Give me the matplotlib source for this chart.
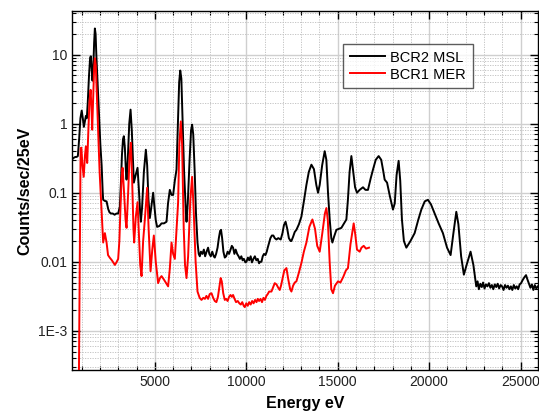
import numpy as np
import matplotlib
matplotlib.use("Agg")
import matplotlib.pyplot as plt
from matplotlib.ticker import FixedLocator, MultipleLocator, LogLocator, NullFormatter

plt.rcParams['font.family'] = ['Liberation Sans', 'DejaVu Sans']

# BCR2 MSL spectrum (energy eV, counts/sec/25eV)
e_msl = [470, 500, 560, 650, 720, 790, 860, 930, 1000, 1060, 1120, 1180, 1230, 1280, 1330,
         1400, 1460, 1500, 1550, 1590, 1630, 1680, 1720, 1760, 1800, 1860, 1900, 1960, 2020,
         2090, 2150, 2175, 2270, 2360, 2450, 2520, 2600, 2700, 2800, 2900, 2994, 3087, 3150,
         3200, 3260, 3306, 3360, 3420, 3453, 3520, 3600, 3672, 3740, 3800, 3852, 3950, 4054,
         4120, 4200, 4235, 4300, 4400, 4508, 4580, 4650, 4726, 4800, 4907, 4960, 5050, 5125,
         5250, 5366, 5500, 5639, 5720, 5819, 5912, 6000, 6093, 6185, 6250, 6330, 6390, 6450,
         6520, 6600, 6700, 6732, 6800, 6900, 6980, 7038, 7100, 7180, 7250, 7333, 7400, 7459,
         7520, 7600, 7680, 7750, 7830, 7912, 7980, 8060, 8140, 8220, 8278, 8350, 8430, 8500,
         8570, 8620, 8680, 8750, 8825, 8900, 8980, 9060, 9140, 9210, 9278, 9350, 9420, 9500,
         9580, 9650, 9730, 9800, 9870, 9950, 10010, 10090, 10160, 10240, 10310, 10390, 10470,
         10550, 10628, 10700, 10760, 10830, 10900, 10970, 11050, 11120, 11174, 11250, 11320,
         11400, 11480, 11557, 11650, 11750, 11884, 11980, 12060, 12150, 12240, 12330, 12420,
         12469, 12560, 12650, 12742, 12880, 13015, 13150, 13289, 13420, 13562, 13700, 13830,
         13923, 14016, 14150, 14289, 14380, 14470, 14563, 14650, 14710, 14800, 14928, 15060,
         15202, 15350, 15475, 15560, 15650, 15748, 15850, 15950, 16055, 16200, 16383, 16520,
         16655, 16800, 16929, 17080, 17240, 17380, 17500, 17568, 17700, 17850, 18022, 18120,
         18220, 18333, 18420, 18513, 18620, 18754, 18980, 19208, 19400, 19574, 19760, 19934,
         20100, 20301, 20520, 20754, 20980, 21175, 21320, 21486, 21600, 21750, 21900, 22050,
         22266, 22420, 22577, 22650, 22720, 22800, 22880, 22950, 23030, 23110, 23190, 23270,
         23350, 23430, 23510, 23590, 23670, 23750, 23830, 23910, 23990, 24070, 24150, 24230,
         24310, 24390, 24470, 24550, 24630, 24710, 24790, 24870, 24950, 25030, 25110, 25216,
         25300, 25380, 25460, 25540, 25620, 25700, 25780, 25860, 25950]
c_msl = [0.30, 0.31, 0.32, 0.33, 0.33, 0.34, 0.6, 1.2, 1.55, 1.2, 0.9, 1.1, 1.3, 1.2, 2.0,
         5.0, 9.0, 9.5, 6.0, 4.2, 6.0, 15, 24, 20, 10, 4.5, 2.8, 1.2, 0.5,
         0.25, 0.1, 0.079, 0.076, 0.075, 0.058, 0.052, 0.05, 0.05, 0.048, 0.05, 0.05, 0.063, 0.15,
         0.35, 0.6, 0.66, 0.45, 0.2, 0.155, 0.3, 1.0, 1.6, 0.8, 0.3, 0.14, 0.18, 0.23,
         0.12, 0.05, 0.038, 0.06, 0.2, 0.42, 0.25, 0.08, 0.043, 0.06, 0.1, 0.07, 0.04, 0.032,
         0.033, 0.036, 0.036, 0.038, 0.07, 0.11, 0.093, 0.093, 0.15, 0.217, 0.8, 4.0, 5.9, 4.5,
         1.0, 0.2, 0.05, 0.038, 0.07, 0.3, 0.8, 0.97, 0.7, 0.2, 0.05, 0.019, 0.013, 0.012,
         0.014, 0.013, 0.015, 0.012, 0.014, 0.016, 0.013, 0.012, 0.014, 0.012, 0.0115, 0.013, 0.016, 0.022,
         0.028, 0.029, 0.022, 0.014, 0.0115, 0.012, 0.014, 0.013, 0.015, 0.017, 0.016, 0.013, 0.015, 0.013,
         0.012, 0.011, 0.012, 0.0105, 0.011, 0.0098, 0.010, 0.0115, 0.0105, 0.012, 0.0098, 0.011, 0.012,
         0.0105, 0.011, 0.0095, 0.010, 0.010, 0.012, 0.013, 0.0125, 0.014, 0.016, 0.019, 0.022,
         0.024, 0.024, 0.022, 0.021, 0.022, 0.021, 0.026, 0.034, 0.038, 0.030, 0.022, 0.020,
         0.020, 0.023, 0.027, 0.029, 0.035, 0.045, 0.075, 0.13, 0.20, 0.255, 0.22, 0.13,
         0.10, 0.13, 0.25, 0.40, 0.30, 0.10, 0.041, 0.022, 0.019, 0.023, 0.029, 0.030,
         0.031, 0.036, 0.041, 0.08, 0.2, 0.34, 0.2, 0.12, 0.10, 0.11, 0.12, 0.11,
         0.11, 0.16, 0.216, 0.30, 0.34, 0.30, 0.20, 0.155, 0.14, 0.09, 0.057, 0.07,
         0.18, 0.29, 0.15, 0.041, 0.020, 0.016, 0.020, 0.026, 0.040, 0.057, 0.075, 0.079,
         0.068, 0.050, 0.036, 0.026, 0.016, 0.0125, 0.025, 0.053, 0.035, 0.012, 0.0065, 0.009,
         0.014, 0.009, 0.0044, 0.0052, 0.0040, 0.0048, 0.0043, 0.0050, 0.0041, 0.0047, 0.0044, 0.0049,
         0.0042, 0.0046, 0.0040, 0.0047, 0.0043, 0.0048, 0.0041, 0.0046, 0.0044, 0.0039, 0.0046, 0.0042,
         0.0045, 0.0040, 0.0044, 0.0039, 0.0046, 0.0041, 0.0044, 0.0040, 0.0047, 0.0049, 0.0054, 0.0060,
         0.0064, 0.0055, 0.0048, 0.0042, 0.0047, 0.0039, 0.0046, 0.0041, 0.0044]

# BCR1 MER spectrum
e_mer = [780, 810, 940, 980, 1040, 1110, 1180, 1229, 1270, 1300, 1350, 1420, 1486, 1530,
         1574, 1630, 1680, 1721, 1770, 1830, 1902, 1980, 2087, 2175, 2268, 2360, 2440, 2530,
         2650, 2814, 2900, 2994, 3060, 3120, 3180, 3235, 3300, 3400, 3453, 3540, 3620, 3688,
         3760, 3830, 3869, 3960, 4054, 4130, 4200, 4273, 4360, 4450, 4579, 4660, 4765, 4860,
         4945, 5050, 5180, 5280, 5366, 5500, 5639, 5726, 5820, 5912, 6000, 6093, 6190, 6273,
         6340, 6420, 6490, 6580, 6650, 6732, 6820, 6940, 7038, 7120, 7230, 7333, 7450, 7551,
         7650, 7740, 7820, 7912, 8000, 8098, 8190, 8278, 8366, 8450, 8540, 8600, 8660, 8740,
         8825, 8900, 8980, 9060, 9140, 9210, 9278, 9360, 9440, 9535, 9620, 9700, 9780, 9860,
         9917, 10000, 10080, 10160, 10240, 10320, 10400, 10480, 10560, 10628, 10700, 10780,
         10860, 10940, 11020, 11100, 11174, 11250, 11376, 11470, 11557, 11650, 11750, 11830,
         11900, 12000, 12080, 12196, 12300, 12400, 12469, 12560, 12650, 12742, 12880, 13015,
         13150, 13289, 13450, 13617, 13760, 13880, 14016, 14150, 14300, 14382, 14460, 14560,
         14650, 14743, 14850, 15016, 15150, 15300, 15450, 15562, 15700, 15874, 15960, 16055,
         16202, 16300, 16421, 16550, 16710]
c_mer = [1e-5, 1e-5, 0.44, 0.45, 0.25, 0.17, 0.35, 0.47, 0.35, 0.27, 0.6, 2.0, 3.1, 1.8,
         0.82, 2.5, 6.5, 8.9, 7.0, 2.5, 0.66, 0.2, 0.057, 0.019, 0.026, 0.019, 0.0125, 0.0115,
         0.0105, 0.009, 0.0098, 0.011, 0.02, 0.06, 0.16, 0.23, 0.12, 0.04, 0.031, 0.1, 0.35, 0.53,
         0.15, 0.03, 0.019, 0.045, 0.073, 0.025, 0.009, 0.0062, 0.02, 0.04, 0.118, 0.03, 0.0073, 0.015,
         0.024, 0.01, 0.0049, 0.0058, 0.0062, 0.0055, 0.0048, 0.0044, 0.008, 0.019, 0.013, 0.011, 0.03, 0.073,
         0.5, 1.08, 0.5, 0.03, 0.009, 0.0058, 0.012, 0.08, 0.17, 0.06, 0.01, 0.0037, 0.003, 0.0028,
         0.003, 0.0029, 0.0032, 0.0029, 0.0034, 0.0035, 0.003, 0.0027, 0.0026, 0.0031, 0.0045, 0.0058, 0.0052, 0.0035,
         0.0028, 0.0029, 0.0027, 0.0031, 0.0033, 0.0031, 0.0033, 0.0029, 0.0026, 0.0027, 0.0025, 0.0024, 0.0026, 0.0023,
         0.0022, 0.0025, 0.0023, 0.0026, 0.0024, 0.0027, 0.0025, 0.0028, 0.0026, 0.0029, 0.0027, 0.0029,
         0.0026, 0.003, 0.0028, 0.0032, 0.0034, 0.0037, 0.0037, 0.0043, 0.0049, 0.0047, 0.0042, 0.0039,
         0.0045, 0.006, 0.0075, 0.0081, 0.0055, 0.004, 0.0037, 0.0045, 0.005, 0.0052, 0.007, 0.0096,
         0.014, 0.019, 0.032, 0.041, 0.03, 0.017, 0.014, 0.025, 0.05, 0.06, 0.04, 0.01,
         0.004, 0.0035, 0.0045, 0.0052, 0.005, 0.006, 0.0075, 0.0081, 0.018, 0.036, 0.025, 0.015,
         0.014, 0.016, 0.017, 0.0155, 0.016]

x_ticks = [5000, 10000, 15000, 20000, 25000]
y_ticks = [1e-3, 0.01, 0.1, 1, 10]
y_ticklabels = ['1E-3', '0.01', '0.1', '1', '10']

fig = plt.figure(figsize=(5.39, 4.15), dpi=100)
ax = fig.add_axes([0.1336, 0.1084, 0.8644, 0.8651])

ax.plot(e_msl, c_msl, color='black', lw=1.4, label='BCR2 MSL', zorder=3)
ax.plot(e_mer, c_mer, color='#ff0000', lw=1.4, label='BCR1 MER', zorder=3)

ax.set_yscale('log')
ax.set_xlim(470, 25950)
ax.set_ylim(2.7e-4, 43)

ax.xaxis.set_major_locator(FixedLocator(x_ticks))
ax.xaxis.set_minor_locator(MultipleLocator(1000))
ax.set_yticks(y_ticks)
ax.set_yticklabels(y_ticklabels)
ax.yaxis.set_minor_locator(LogLocator(base=10, subs=np.arange(2, 10)))
ax.yaxis.set_minor_formatter(NullFormatter())

ax.grid(True, which='major', color='#cfcfcf', lw=1.0, ls='-', zorder=0)
ax.grid(True, which='minor', color='#bdbdbd', lw=0.6, ls=(0, (1.5, 1.5)), zorder=0)

ax.tick_params(which='both', direction='in', top=True, right=True, colors='black',
               labelsize=10, labelcolor='#222222')
ax.tick_params(which='major', length=6, width=1)
ax.tick_params(which='minor', length=3, width=0.8)
for s in ax.spines.values():
    s.set_linewidth(1.0)

ax.set_xlabel('Energy eV', fontsize=11.5, fontweight='bold', labelpad=5)
ax.set_ylabel('Counts/sec/25eV', fontsize=11.5, fontweight='bold', labelpad=4)

leg = ax.legend(loc='upper left', bbox_to_anchor=(0.5815, 0.908), fontsize=10.5,
                frameon=True, fancybox=False, edgecolor='#333333', handlelength=2.4,
                borderaxespad=0, borderpad=0.45, labelspacing=0.2, handletextpad=0.4)
leg.get_frame().set_linewidth(1.0)

fig.savefig('out.png', dpi=100)
